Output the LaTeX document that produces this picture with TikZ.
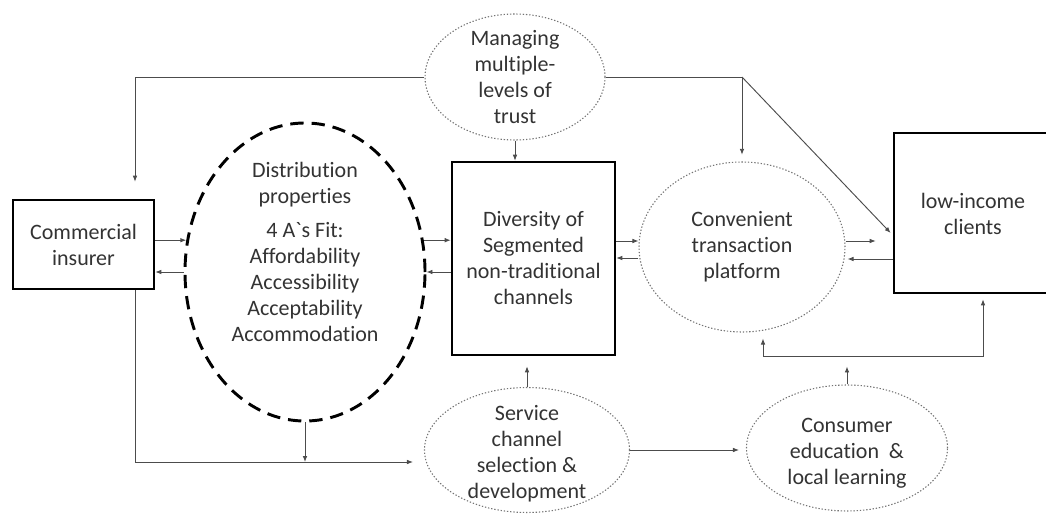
\documentclass[tikz,border=0pt]{standalone}
\usepackage{fontspec}
\setmainfont{Carlito}[Ligatures={TeX,NoCommon}]
\usetikzlibrary{shapes.geometric,arrows.meta,calc}

\tikzset{
  smalltip/.tip={Latex[length=4.5pt,width=3.5pt]},
  blockbox/.style={draw=black,line width=2pt,rectangle,inner sep=0pt,align=center,text=black!80},
  dotell/.style={draw=black!55,line width=0.8pt,dash pattern=on 1pt off 1.4pt,ellipse,inner sep=0pt},
  dashell/.style={draw=black,line width=2.2pt,dash pattern=on 10pt off 6pt,ellipse,inner sep=0pt},
  txt/.style={align=center,text=black!80,inner sep=0pt},
  conn/.style={draw=black!70,line width=0.7pt,-smalltip},
}

\begin{document}
\begin{tikzpicture}[x=0.75pt,y=0.75pt,yscale=-1,xscale=1,font=\fontsize{16.5}{19.5}\selectfont]
	\useasboundingbox (0,0) rectangle (1046,514);
	\clip (0,0) rectangle (1046,514);
	
	%boxes
	\node[blockbox,minimum width=105.75pt,minimum height=66.75pt] (insurer) at (83.5,244.5) {Commercial\\insurer};
	\node[blockbox,minimum width=122.25pt,minimum height=144.75pt] (div) at (533.5,258.5) {Diversity of\\Segmented\\non-traditional\\channels};
	\node[blockbox,minimum width=132pt,minimum height=120pt] (clients) at (982,213) {};
	\node[txt] (clientstext) at (973,214) {low-income\\clients};
	
	%ellipses
	\node[dashell,minimum width=180pt,minimum height=223.5pt] (dist) at (305,272) {};
	\node[dotell,minimum width=135pt,minimum height=94.5pt] (trust) at (515,77) {};
	\node[dotell,minimum width=154.5pt,minimum height=127.5pt] (conv) at (742,247) {};
	\node[dotell,minimum width=153.75pt,minimum height=93.75pt] (serv) at (527,450) {};
	\node[dotell,minimum width=150.75pt,minimum height=94.5pt] (cons) at (847,448) {};
	
	\node[txt] (disttext) at (305,252) {Distribution\\properties\\[6pt]4 A\textasciigrave s Fit:\\Affordability\\Accessibility\\Acceptability\\Accommodation};
	\node[txt] (trusttext) at (trust) {Managing\\multiple-\\levels of\\trust};
	\node[txt] (convtext) at (conv) {Convenient\\transaction\\platform};
	\node[txt] (servtext) at ($(serv)+(0,4)$) {Service\\channel\\selection \&\\development};
	\node[txt] (constext) at ($(cons)+(0,5)$) {Consumer\\education\ \ \&\\local learning};
	
	%top rail
	\draw[conn] (trust.west) -| ($(insurer.north)+(51.5,-17)$);
	\draw[conn,shorten >=5pt] (trust.east) -| (conv.north);
	\draw[conn] (trust.east -| conv.north) -- ($(clients.west)+(-2,20)$);
	\draw[conn] (trust.south) -- (trust.south |- div.north);
	
	%left pairs
	\draw[conn] (dist.165 -| insurer.east) -- (dist.165);
	\draw[conn] (dist.west) -- (dist.west -| insurer.east);
	\draw[conn] (dist.15) -- (dist.15 -| div.west);
	\draw[conn] (div.west |- dist.east) -- (dist.east);
	
	%right pairs
	\draw[conn] ($(conv.west -| div.east)+(0,-6)$) -- ($(conv.west)+(0,-6)$);
	\draw[conn] ($(conv.west)+(0,11)$) -- ($(conv.west -| div.east)+(0,11)$);
	\draw[conn] ($(conv.east)+(0,-6)$) -- ($(conv.east -| clients.west)+(-17,-6)$);
	\draw[conn] ($(conv.east -| clients.west)+(0,12)$) -- ($(conv.east)+(2,12)$);
	
	%bottom
	\coordinate (lowrail) at (135,462);
	\draw[conn] (insurer.south -| lowrail) |- ($(lowrail -| serv.west)+(-11,0)$);
	\draw[conn] (dist.south) -- (dist.south |- lowrail);
	\draw[conn] (serv.north) -- ($(serv.north |- div.south)+(0,10)$);
	\draw[conn] (serv.east) -- ($(serv.east -| cons.west)+(-7,0)$);
	\draw[conn] (cons.north) -- ($(cons.north)+(0,-18)$);
	\draw[conn,smalltip-smalltip] ($(conv.south)+(21,6)$) |- ($(clientstext |- clients.south)+(10,62)$) -- ($(clientstext |- clients.south)+(10,5)$);
	
\end{tikzpicture}
\end{document}
